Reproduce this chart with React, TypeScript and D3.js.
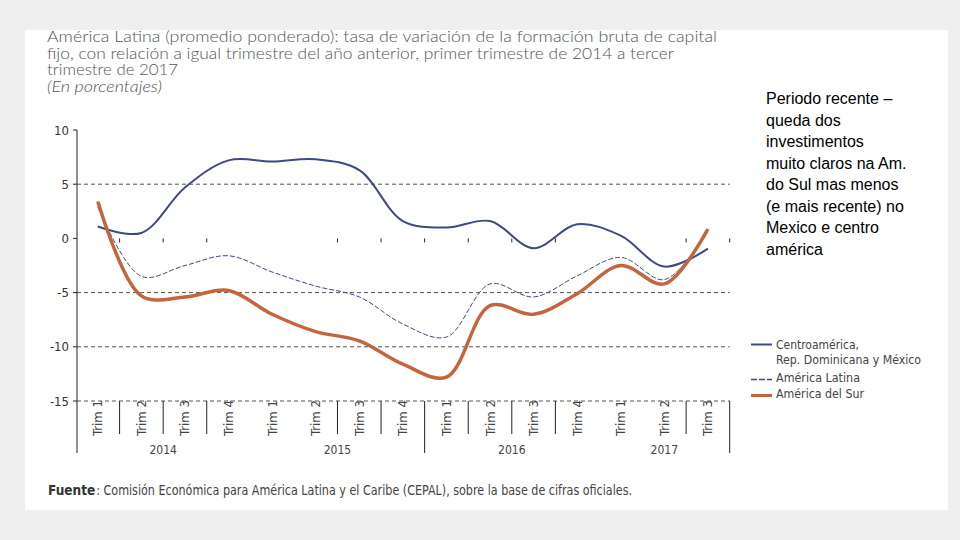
import { useLayoutEffect, useRef, useState } from 'react'
import * as d3 from 'd3'

const QUARTERS = ['Trim 1', 'Trim 2', 'Trim 3', 'Trim 4', 'Trim 1', 'Trim 2', 'Trim 3', 'Trim 4',
  'Trim 1', 'Trim 2', 'Trim 3', 'Trim 4', 'Trim 1', 'Trim 2', 'Trim 3']
const YEARS = ['2014', '2015', '2016', '2017']
const YEAR_QUARTERS = [4, 4, 4, 3]
const Y_TICKS = [10, 5, 0, -5, -10, -15]
const GRID_TICKS = [5, -5, -10, -15]

const CENTRO = [1.1, 0.5, 4.7, 7.2, 7.1, 7.3, 6.3, 1.6, 1.0, 1.6, -0.9, 1.3, 0.25, -2.6, -0.95]
const LATINA = [2.9, -3.5, -2.5, -1.6, -3.1, -4.4, -5.4, -7.9, -9.1, -4.2, -5.4, -3.45, -1.75, -3.8, 0.6]
const SUR = [3.4, -5.3, -5.4, -4.8, -7.0, -8.6, -9.45, -11.6, -12.8, -6.2, -7.0, -5.1, -2.5, -4.2, 0.87]

const TITLE_LINES = [
  'América Latina (promedio ponderado): tasa de variación de la formación bruta de capital',
  'fijo, con relación a igual trimestre del año anterior, primer trimestre de 2014 a tercer',
  'trimestre de 2017',
]
const NOTE_LINES = ['Periodo recente –', 'queda dos', 'investimentos', 'muito claros na Am.',
  'do Sul mas menos', '(e mais recente) no', 'Mexico e centro', 'américa']

const BLUE = '#3e4a82'
const ORANGE = '#c4653f'
const NARROW = '"Liberation Sans Narrow", "DejaVu Sans Condensed", Roboto, sans-serif'
// separators that the source picture does not show
const HIDDEN = new Set([3, 4, 11, 12])

export default function App() {
  const fuenteRef = useRef<SVGTextElement>(null)
  const [srcX, setSrcX] = useState(92)

  useLayoutEffect(() => {
    if (fuenteRef.current) setSrcX(48 + fuenteRef.current.getComputedTextLength() + 1)
  }, [])

  const keys = QUARTERS.map((_, i) => i)
  const x = d3.scaleBand<number>().domain(keys).range([76, 729.7])
  const y = d3.scaleLinear().domain([-15, 10]).range([401, 130])
  const bw = x.bandwidth()
  const cx = (i: number) => (x(i) as number) + bw / 2

  const line = d3.line<number>().x((_, i) => cx(i)).y((d) => y(d)).curve(d3.curveCatmullRom.alpha(0.5))

  const boundaries = keys.map((i) => (x(i) as number) + bw)
  let acc = 0
  const yearBlocks = YEARS.map((yr, k) => {
    const start = acc
    acc += YEAR_QUARTERS[k]
    return { yr, start, end: acc }
  })
  const yearEdges = new Set(yearBlocks.map((b) => b.end - 1))

  return (
    <svg width={960} height={540} style={{ position: 'absolute', left: 0, top: 0 }}>
      <rect x={0} y={0} width={960} height={540} fill="#efefef" />
      <rect x={25} y={30} width={923} height={480} fill="#ffffff" />

      {/* title */}
      <g fontFamily='Lato, "Open Sans", sans-serif' fontWeight={300} fontSize={15.5} fill="#555">
        {TITLE_LINES.map((t, i) => (
          <text key={i} x={47} y={42 + i * 16.5}
            textLength={i === 0 ? 670 : i === 1 ? 627 : 131} lengthAdjust="spacingAndGlyphs">{t}</text>
        ))}
        <text x={47} y={92} fontStyle="italic" textLength={115} lengthAdjust="spacingAndGlyphs">(En porcentajes)</text>
      </g>

      {/* grid */}
      {GRID_TICKS.map((t) => (
        <line key={t} x1={77} x2={729.7} y1={y(t)} y2={y(t)} stroke="#555" strokeWidth={1} strokeDasharray="4 3" />
      ))}

      {/* y axis */}
      <line x1={77} x2={77} y1={y(10)} y2={453} stroke="#222" strokeWidth={1} />
      {Y_TICKS.map((t) => (
        <g key={t}>
          <line x1={73} x2={77} y1={y(t)} y2={y(t)} stroke="#222" />
          <text x={69} y={y(t) + 4.5} textAnchor="end" fontFamily={NARROW} fontSize={13} fill="#333">{t}</text>
        </g>
      ))}

      {/* zero ticks */}
      {boundaries.map((b, i) => HIDDEN.has(i) ? null : (
        <line key={i} x1={b} x2={b} y1={y(0)} y2={y(0) + 4} stroke="#222" />
      ))}

      {/* category axis */}
      {boundaries.map((b, i) => HIDDEN.has(i) ? null : (
        <line key={i} x1={b} x2={b} y1={y(-15)} y2={yearEdges.has(i) ? 453 : 434} stroke="#222" />
      ))}
      {QUARTERS.map((q, i) => (
        <text key={i} transform={`translate(${cx(i) + 4.5},418) rotate(-90)`} textAnchor="middle"
          fontFamily={NARROW} fontSize={13} fill="#444">{q}</text>
      ))}
      {yearBlocks.map((b) => (
        <text key={b.yr} x={((x(b.start) as number) + (x(b.end - 1) as number) + bw) / 2} y={454}
          textAnchor="middle" fontFamily={NARROW} fontSize={12} fill="#444">{b.yr}</text>
      ))}

      {/* series */}
      <path d={line(LATINA) ?? ''} fill="none" stroke={BLUE} strokeWidth={1} strokeDasharray="5 2" />
      <path d={line(CENTRO) ?? ''} fill="none" stroke={BLUE} strokeWidth={2} />
      <path d={line(SUR) ?? ''} fill="none" stroke={ORANGE} strokeWidth={3.5} />

      {/* legend */}
      <g fontFamily={NARROW} fontSize={12.5} fill="#444">
        <line x1={751} x2={772} y1={344.5} y2={344.5} stroke={BLUE} strokeWidth={2} />
        <text x={776} y={349} textLength={83} lengthAdjust="spacingAndGlyphs">Centroamérica,</text>
        <text x={776} y={364} textLength={145} lengthAdjust="spacingAndGlyphs">Rep. Dominicana y México</text>
        <line x1={751} x2={772} y1={379.5} y2={379.5} stroke={BLUE} strokeWidth={1.5} strokeDasharray="6 2" />
        <text x={776} y={382} textLength={84} lengthAdjust="spacingAndGlyphs">América Latina</text>
        <line x1={751} x2={772} y1={395.5} y2={395.5} stroke={ORANGE} strokeWidth={3} />
        <text x={776} y={398} textLength={88} lengthAdjust="spacingAndGlyphs">América del Sur</text>
      </g>

      {/* source */}
      <text ref={fuenteRef} x={48} y={495} fontFamily={NARROW} fontSize={13.5} fontWeight="bold" fill="#333">Fuente</text>
      <text x={srcX} y={495} fontFamily={NARROW} fontSize={14} fill="#444"
        textLength={632 - srcX} lengthAdjust="spacingAndGlyphs">: Comisión Económica para América Latina y el Caribe (CEPAL), sobre la base de cifras oficiales.</text>

      {/* note */}
      <g fontFamily='"Liberation Sans", Arial, sans-serif' fontSize={16} fill="#000">
        {NOTE_LINES.map((t, i) => (
          <text key={i} x={766} y={104 + i * 21.5}>{t}</text>
        ))}
      </g>
    </svg>
  )
}
